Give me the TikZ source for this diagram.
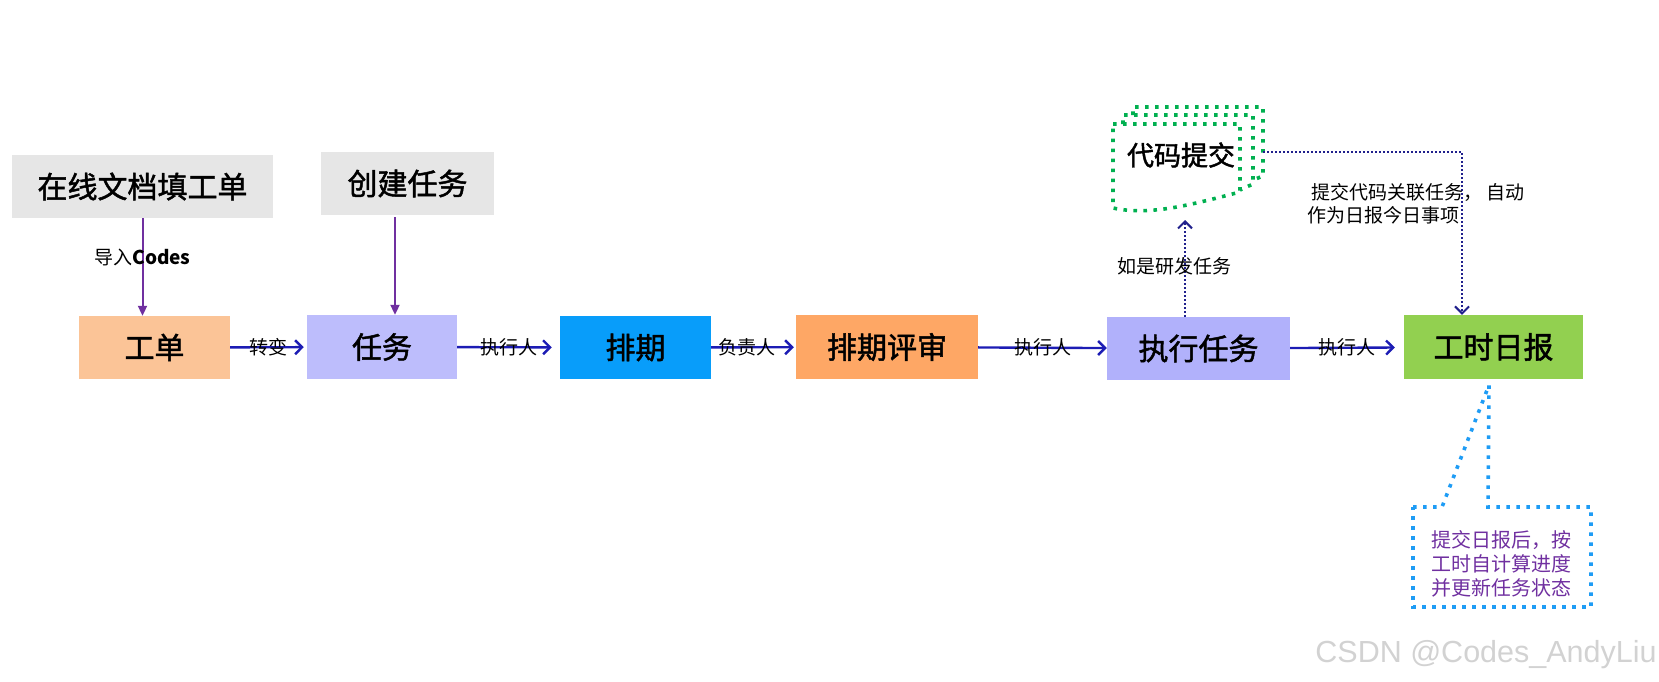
\documentclass[tikz,border=0pt]{standalone}
\usepackage{fontspec}
\setmainfont{Noto Sans CJK SC}
\newfontfamily\boxfont[FakeBold=1.6]{Noto Sans CJK SC}
\newfontfamily\wmfont{Liberation Sans}
\usetikzlibrary{arrows.meta,positioning,calc}
\definecolor{Grey}{HTML}{E6E6E6}
\definecolor{Peach}{HTML}{FBC497}
\definecolor{Lilac}{HTML}{BDBDFC}
\definecolor{Sky}{HTML}{089DFA}
\definecolor{Apricot}{HTML}{FEA765}
\definecolor{Lavender}{HTML}{B1B1FB}
\definecolor{Leaf}{HTML}{92D050}
\definecolor{Navy}{HTML}{1C1CB4}
\definecolor{Plum}{HTML}{7030A0}
\definecolor{Mint}{HTML}{00B050}
\definecolor{Ink}{HTML}{20208C}
\definecolor{Azure}{HTML}{1E9CF5}
\definecolor{Mark}{HTML}{D2D2D2}
\tikzset{
  box/.style={minimum height=63pt,inner sep=0pt,font=\boxfont\fontsize{30}{36}\selectfont},
  flow/.style={->,Navy,line width=2.4pt},
  feed/.style={-{Triangle[length=10pt,width=9pt]},Plum,line width=2pt},
  hint/.style={->,Ink,line width=2pt,dash pattern=on 2pt off 2pt},
  lab/.style={font=\fontsize{19}{23}\selectfont,text=black,inner sep=1pt},
  greendots/.style={Mint,line width=3.6pt,dash pattern=on 3.6pt off 6.4pt},
  bluedots/.style={Azure,line width=3.6pt,dash pattern=on 3.6pt off 6.4pt},
}

\begin{document}
\begin{tikzpicture}[x=1pt,y=1pt,>={Straight Barb[length=7pt,width=14pt]}]
    \useasboundingbox (0,0) rectangle (1659,-681);
    % sources
    \node[box,fill=Grey,minimum width=261pt] (doc) at (142.5,-186.5) {在线文档填工单};
    \node[box,fill=Grey,minimum width=173pt] (create) at (407.5,-183.5) {创建任务};
    % main line
    \node[box,fill=Peach,minimum width=151pt] (order) at (154.5,-347.5) {工单};
    \node[box,fill=Lilac,minimum width=150pt,minimum height=64pt] (task) at (382,-347) {任务};
    \node[box,fill=Sky,minimum width=151pt] (sched) at (635.5,-347.5) {排期};
    \node[box,fill=Apricot,minimum width=182pt,minimum height=64pt] (review) at (887,-347) {排期评审};
    \node[box,fill=Lavender,minimum width=183pt] (exec) at (1198.5,-348.5) {执行任务};
    \node[box,fill=Leaf,minimum width=179pt,minimum height=64pt] (daily) at (1493.5,-347) {工时日报};

    \draw[feed] (doc.south) -- node[lab,pos=.4] {导入\textbf{Codes}} (doc.south |- order.north);
    \draw[feed] ([xshift=-12.5pt,yshift=-2pt]create.south) -- ([xshift=13pt]task.north);

    \draw[flow,shorten >=3pt] (order) -- node[lab] {转变} (task);
    \draw[flow,shorten >=8pt] (task) -- node[lab] {执行人} (sched);
    \draw[flow,shorten >=2pt] (sched) -- node[lab,pos=.42] {负责人} (review);
    \draw[flow] (review) -- node[lab] {执行人} (exec);
    \draw[flow,shorten >=9pt] (exec) -- node[lab] {执行人} (daily);

    % code commit (multi document)
    \draw[greendots] (1133,-115) -- (1133,-107) -- (1263,-107) -- (1263,-176) -- (1253,-180);
    \draw[greendots] (1123,-124) -- (1123,-115) -- (1253,-115) -- (1253,-184) -- (1240,-190);
    \draw[greendots] (1113,-124) -- (1240,-124) -- (1240,-192)
      .. controls (1190,-205) and (1150,-216) .. (1113,-208) -- cycle;
    \node[font=\boxfont\fontsize{27}{32}\selectfont] (code) at (1181,-155) {代码提交};

    \coordinate (codeTip) at (1185,-220);
    \coordinate (codeR) at (1263,-152);
    \coordinate (turn) at (1462,-152);
    \draw[hint] (exec.north -| codeTip) -- node[lab,pos=.52,xshift=-11pt] {如是研发任务} (codeTip);
    \draw[hint] (codeR) -- (turn) -- (turn |- daily.north);
    \node[lab,align=left,anchor=west] (linklab) at (1306,-203.5)
      {\hspace{4pt}提交代码关联任务， 自动\\作为日报今日事项};

    % callout
    \draw[bluedots] (1413,-507) -- (1442,-507) -- (1489,-385) -- (1488,-507)
      -- (1591,-507) -- (1591,-607) -- (1413,-607) -- cycle;
    \node[font=\fontsize{20}{24}\selectfont,text=Plum,align=center] (note) at (1501,-564)
      {提交日报后，按\\工时自计算进度\\并更新任务状态};

    \node[font=\wmfont\fontsize{30.5}{34}\selectfont,text=Mark,anchor=base] (mark) at (1486,-662)
      {CSDN @Codes\_AndyLiu};
\end{tikzpicture}
\end{document}
